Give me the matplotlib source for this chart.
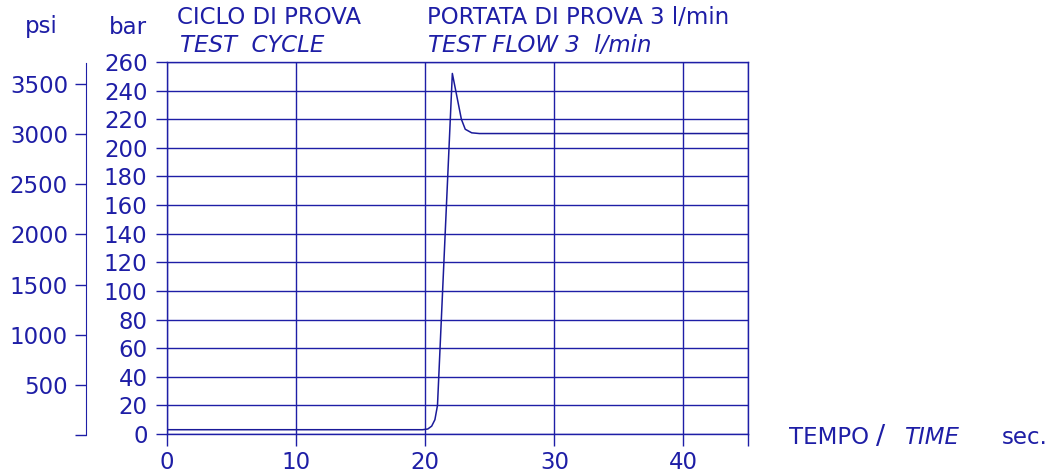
import matplotlib
matplotlib.use('Agg')
import matplotlib.pyplot as plt

# pressure curve (bar) against time (s)
time_s = [0, 19.8, 20.2, 20.5, 20.75, 20.95, 22.1, 22.8, 23.1, 23.6, 24.2, 45]
pressure_bar = [3, 3, 3.5, 5.5, 10, 20, 252, 220, 213, 210.5, 210, 210]

bar_ticks = list(range(0, 261, 20))
psi_ticks = [0, 500, 1000, 1500, 2000, 2500, 3000, 3500]
psi_labels = ['', '500', '1000', '1500', '2000', '2500', '3000', '3500']
time_ticks = [0, 10, 20, 30, 40, 45]
time_labels = ['0', '10', '20', '30', '40', '']

BLUE = '#1e1ea6'
W, H = 1063, 475
FS = 16.5

fig = plt.figure(figsize=(W / 100, H / 100), dpi=100)
fig.patch.set_facecolor('white')

left, right, top, bottom = 167, 748, 62, 434
ax = fig.add_axes([left / W, (H - bottom) / H, (right - left) / W, (bottom - top) / H])

ax.plot(time_s, pressure_bar, color='#1a1a99', linewidth=1.1)
ax.set_xlim(0, 45)
ax.set_ylim(0, 260)
ax.set_xticks(time_ticks)
ax.set_xticklabels(time_labels)
ax.set_yticks(bar_ticks)
ax.grid(True, color=BLUE, linewidth=1.0)
for sp in ax.spines.values():
    sp.set_color(BLUE)
    sp.set_linewidth(1.0)
ax.tick_params(axis='x', direction='out', length=8.5, width=1.0, color=BLUE,
               labelcolor=BLUE, labelsize=FS, pad=4)
ax.tick_params(axis='y', direction='out', length=8, width=1.0, color=BLUE,
               labelcolor=BLUE, labelsize=FS, pad=6)
ax.set_axisbelow(True)

# psi scale on its own spine further left
ax_psi = fig.add_axes([86 / W, (H - 435) / H, 0.0001, (435 - 63) / H])
ax_psi.set_ylim(0, 3710)
ax_psi.set_xticks([])
ax_psi.set_yticks(psi_ticks)
ax_psi.set_yticklabels(psi_labels)
for name, sp in ax_psi.spines.items():
    sp.set_visible(name == 'left')
    sp.set_color(BLUE)
ax_psi.patch.set_visible(False)
ax_psi.tick_params(axis='y', direction='out', length=8, width=1.0, color=BLUE,
                   labelcolor=BLUE, labelsize=FS, pad=5)


def put(x, y, s, size=FS, **kw):
    fig.text(x / W, 1 - y / H, s, color=BLUE, fontsize=size, va='center', **kw)


put(41, 27, 'psi', ha='center')
put(128, 27, 'bar', ha='center')
put(177, 18, 'CICLO DI PROVA')
put(180, 45, 'TEST  CYCLE', style='italic')
put(427, 18, 'PORTATA DI PROVA 3 l/min')
put(428, 45, 'TEST FLOW 3  l/min', style='italic')
put(789, 437, 'TEMPO')
put(876, 437, '/', size=FS + 3)
put(904, 437, 'TIME', style='italic')
put(1002, 437, 'sec.')

fig.savefig('out.png', dpi=100)
